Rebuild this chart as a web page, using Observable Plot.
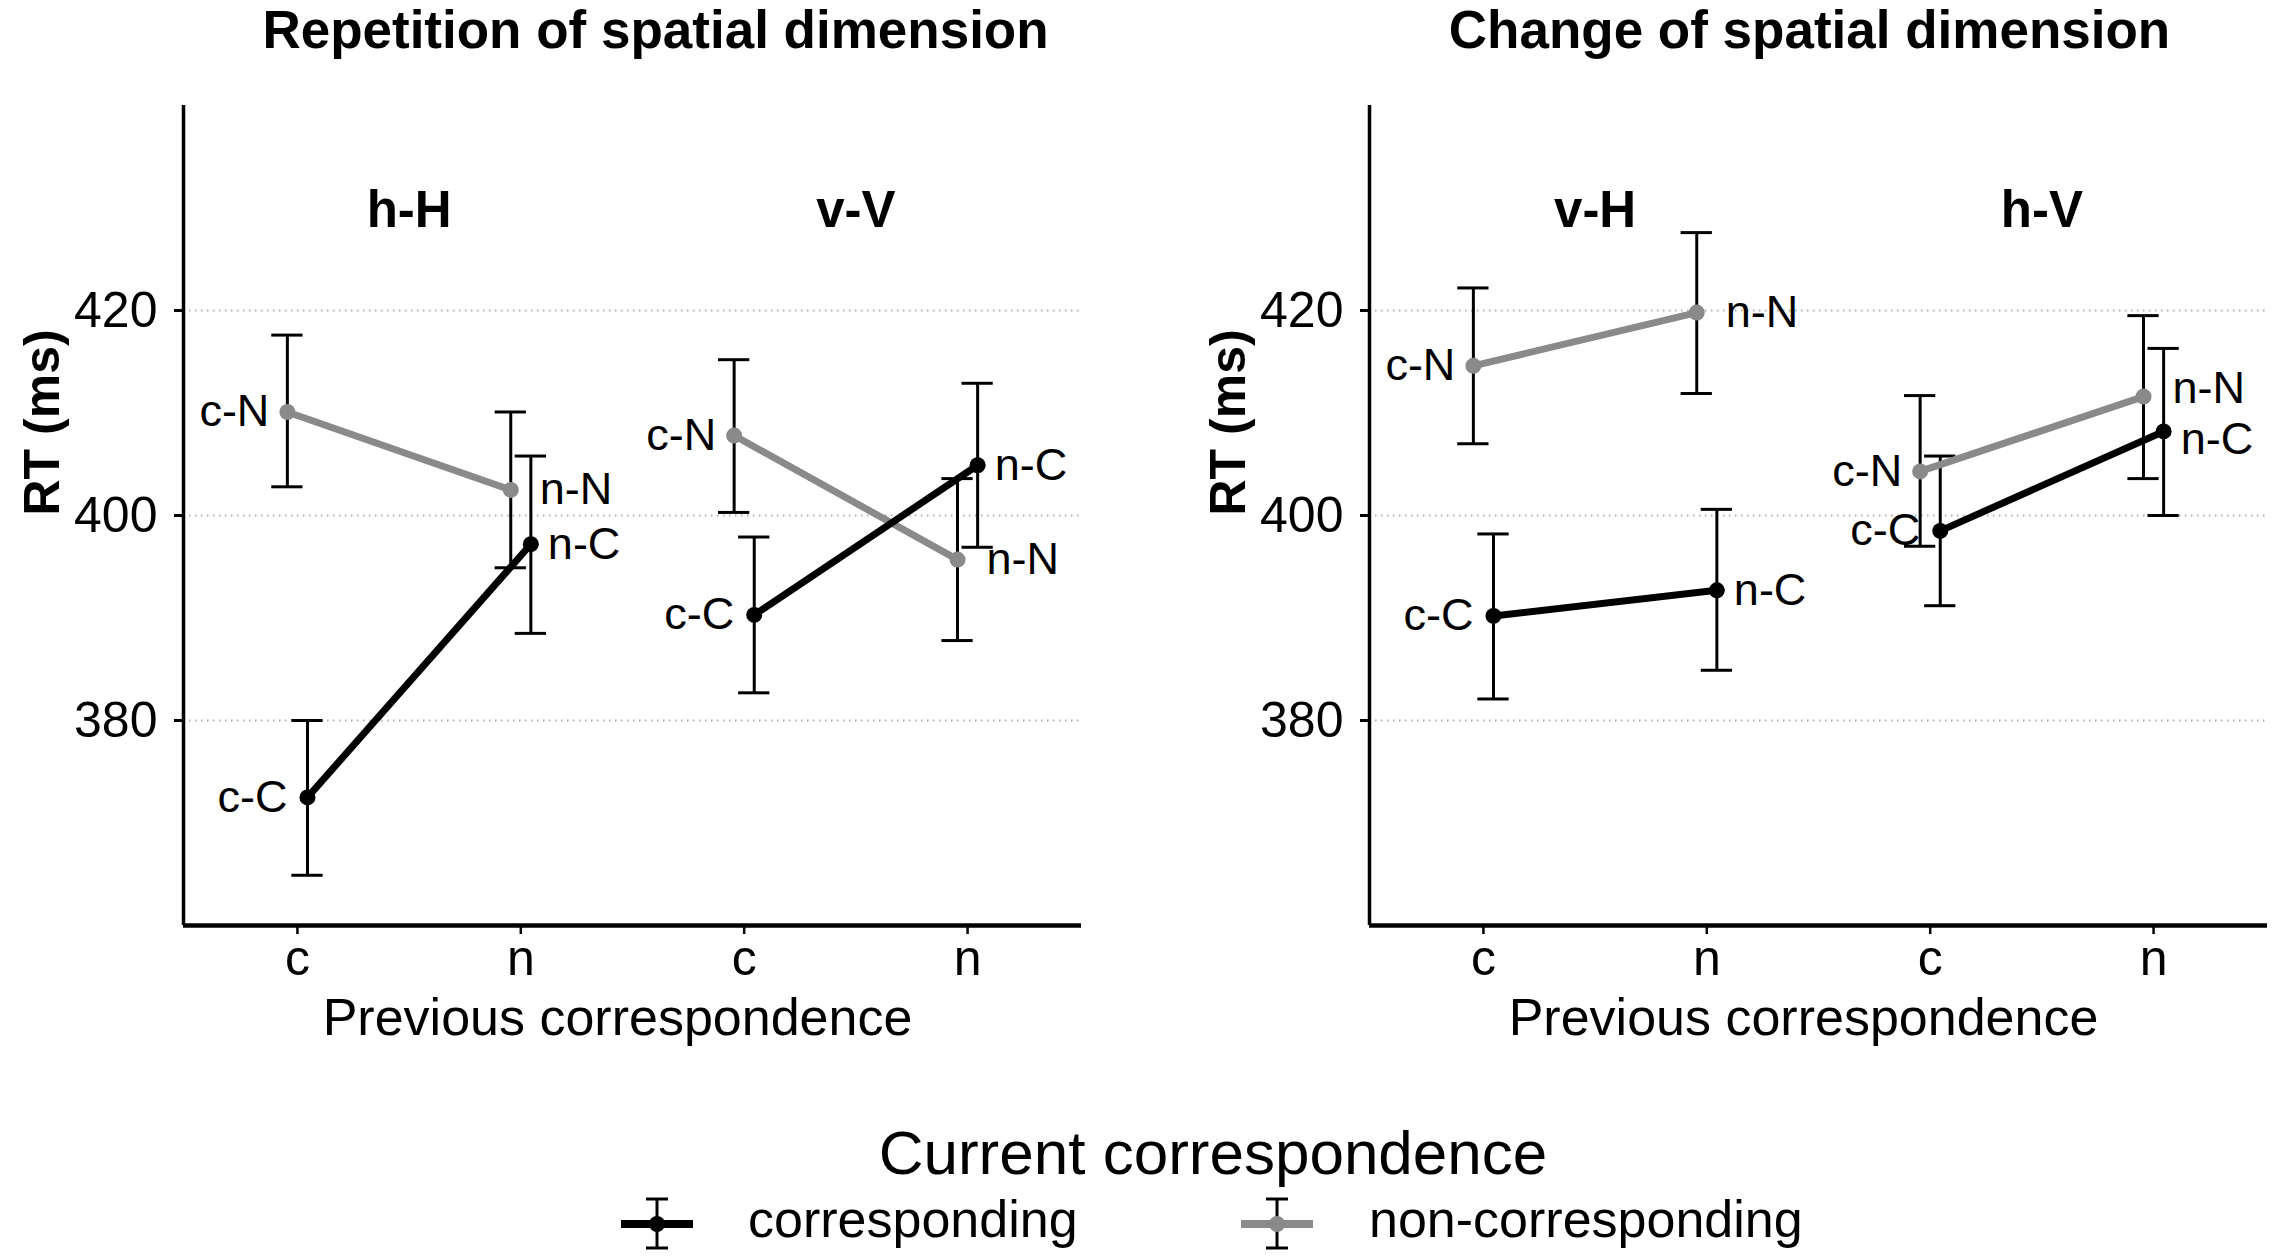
<!DOCTYPE html>
<html>
<head>
<meta charset="utf-8">
<script src="https://cdn.jsdelivr.net/npm/d3@7"></script>
<script src="https://cdn.jsdelivr.net/npm/@observablehq/plot@0.6"></script>
<style>
  html, body { margin: 0; padding: 0; background: #fff; }
  #root { position: relative; width: 2276px; height: 1258px; overflow: hidden; background: #fff;
          font-family: "Liberation Sans", Arial, Helvetica, sans-serif; }
  #root svg { position: absolute; overflow: visible; }
</style>
</head>
<body>
<div id="root"></div>
<script>
// ---------------- data ----------------
const panelTitles = ["Repetition of spatial dimension", "Change of spatial dimension"];
const facetNames = [["h-H", "v-V"], ["v-H", "h-V"]];
const prevLevels = ["c", "n"];
const seriesNames = ["corresponding", "non-corresponding"];
const seriesCodes = ["C", "N"];
const yTicks = [380, 400, 420];
const yDomain = [360, 440];
const xLabel = "Previous correspondence";
const yLabel = "RT (ms)";
const legendTitle = "Current correspondence";

// order within each array: facet1-c, facet1-n, facet2-c, facet2-n
const repCorrMean = [372.5, 397.2, 390.3, 404.9];
const repCorrLo   = [364.9, 388.5, 382.7, 396.9];
const repCorrHi   = [380.0, 405.8, 397.9, 412.9];
const repNonMean  = [410.1, 402.5, 407.8, 395.7];
const repNonLo    = [402.8, 394.9, 400.3, 387.8];
const repNonHi    = [417.6, 410.1, 415.2, 403.6];

const chgCorrMean = [390.2, 392.7, 398.5, 408.2];
const chgCorrLo   = [382.1, 384.9, 391.2, 400.0];
const chgCorrHi   = [398.2, 400.6, 405.8, 416.3];
const chgNonMean  = [414.6, 419.8, 404.3, 411.6];
const chgNonLo    = [407.0, 411.9, 397.0, 403.6];
const chgNonHi    = [422.2, 427.6, 411.7, 419.5];

const panelData = [
  {corr: {mean: repCorrMean, lo: repCorrLo, hi: repCorrHi}, non: {mean: repNonMean, lo: repNonLo, hi: repNonHi}},
  {corr: {mean: chgCorrMean, lo: chgCorrLo, hi: chgCorrHi}, non: {mean: chgNonMean, lo: chgNonLo, hi: chgNonHi}}
];

// ---------------- style ----------------
const FONT = '"Liberation Sans", Arial, Helvetica, sans-serif';
const GRAY = "#8a8a8a";
const colors = ["#000000", GRAY];
const dodge = 0.045;     // data units (like position_dodge)
const capHalf = 0.07;    // error-bar cap half width, data units
const labelMinGap = 5;   // minimal vertical distance between labels at one position (y units)
const nPos = facetNames[0].length * prevLevels.length;
const xDomain = [-0.51, nPos - 1 + 0.51];
const panelLayout = [
  {left: 0,    marginLeft: 183, marginRight: 57, titleDx: 23},
  {left: 1138, marginLeft: 231, marginRight: 9,  titleDx: -9}
];
// label offsets (px) per series [corresponding, non-corresponding]
const labelDxC = [-20, -18];
const labelDxN = [17, 29];

function buildRows(p) {
  const rows = [];
  // non-corresponding first so the black series is drawn on top
  [[1, panelData[p].non], [0, panelData[p].corr]].forEach(([s, set]) => {
    set.mean.forEach((m, i) => {
      const pi = i % prevLevels.length;
      rows.push({
        pos: i,
        facet: facetNames[p][Math.floor(i / prevLevels.length)],
        prev: prevLevels[pi],
        s,
        series: seriesNames[s],
        mean: m, lo: set.lo[i], hi: set.hi[i],
        labelY: m,
        label: prevLevels[pi] + "-" + seriesCodes[s]
      });
    });
  });
  // simple repel: push apart labels sharing a position when too close
  d3.groups(rows, d => d.pos).forEach(([, g]) => {
    if (g.length === 2) {
      const [a, b] = g;
      const diff = a.mean - b.mean;
      if (Math.abs(diff) < labelMinGap) {
        const mid = (a.mean + b.mean) / 2, sign = diff >= 0 ? 1 : -1;
        a.labelY = mid + sign * labelMinGap / 2;
        b.labelY = mid - sign * labelMinGap / 2;
      }
    }
  });
  return rows;
}

const root = document.getElementById("root");

panelTitles.forEach((title, p) => {
  const L = panelLayout[p];
  const rows = buildRows(p);
  const xd = d => d.pos + (d.s === 0 ? dodge : -dodge);
  const facetRows = facetNames[p].map((f, k) => ({
    facet: f,
    pos: k * prevLevels.length + (prevLevels.length - 1) / 2
  }));
  const xTickPos = d3.range(nPos);

  const labelMarks = [];
  [0, 1].forEach(s => {
    labelMarks.push(Plot.text(rows.filter(d => d.prev === prevLevels[0] && d.s === s), {
      x: xd, y: "labelY", text: "label", textAnchor: "end", dx: labelDxC[s], fontSize: 45, fill: "#000", lineAnchor: "middle"
    }));
    labelMarks.push(Plot.text(rows.filter(d => d.prev === prevLevels[1] && d.s === s), {
      x: xd, y: "labelY", text: "label", textAnchor: "start", dx: labelDxN[s], fontSize: 45, fill: "#000", lineAnchor: "middle"
    }));
  });

  const chart = Plot.plot({
    width: 1138,
    height: 1080,
    marginLeft: L.marginLeft,
    marginRight: L.marginRight,
    marginTop: 105,
    marginBottom: 155,
    style: {fontFamily: FONT, background: "transparent", color: "#000", overflow: "visible"},
    x: {type: "linear", domain: xDomain},
    y: {domain: yDomain},
    color: {domain: seriesNames, range: colors},
    marks: [
      Plot.gridY(yTicks, {stroke: "#b0b0b0", strokeOpacity: 1, strokeWidth: 2, strokeDasharray: "1.5,4.5"}),
      // error bars
      Plot.ruleX(rows, {x: xd, y1: "lo", y2: "hi", stroke: "#000", strokeWidth: 3}),
      Plot.ruleY(rows, {y: "hi", x1: d => xd(d) - capHalf, x2: d => xd(d) + capHalf, stroke: "#000", strokeWidth: 3}),
      Plot.ruleY(rows, {y: "lo", x1: d => xd(d) - capHalf, x2: d => xd(d) + capHalf, stroke: "#000", strokeWidth: 3}),
      // lines & points
      Plot.line(rows, {x: xd, y: "mean", z: d => d.series + "|" + d.facet, stroke: "series", strokeWidth: 7}),
      Plot.dot(rows, {x: xd, y: "mean", r: 8, fill: "series", stroke: null}),
      // point labels
      ...labelMarks,
      // facet headers
      Plot.text(facetRows, {
        x: "pos", text: "facet", frameAnchor: "top", dy: 121, lineAnchor: "bottom",
        fontSize: 51, fontWeight: "bold", fill: "#000"
      }),
      // axes
      Plot.axisY(yTicks, {tickSize: 9, tickPadding: 17, fontSize: 50, strokeWidth: 3, stroke: "#000", fill: "#000", label: null}),
      Plot.axisX(xTickPos, {
        tickFormat: i => prevLevels[i % prevLevels.length],
        tickSize: 9, tickPadding: 5, fontSize: 50, strokeWidth: 2.5, stroke: "#000", fill: "#000", label: null
      }),
      Plot.ruleX([xDomain[0]], {stroke: "#000", strokeWidth: 3.5}),
      Plot.ruleY([yDomain[0]], {stroke: "#000", strokeWidth: 4.5}),
      // titles
      Plot.text([title], {
        frameAnchor: "top", dx: L.titleDx, dy: -58, lineAnchor: "bottom",
        fontSize: 53, fontWeight: "bold", fill: "#000"
      }),
      Plot.text([xLabel], {
        frameAnchor: "bottom", dx: -15, dy: 109, lineAnchor: "bottom", fontSize: 52, fill: "#000"
      }),
      Plot.text([yLabel], {
        frameAnchor: "left", dx: -141, rotate: -90, lineAnchor: "middle",
        fontSize: 50, fontWeight: "bold", fill: "#000"
      })
    ]
  });
  chart.style.left = L.left + "px";
  chart.style.top = "0px";
  root.appendChild(chart);
});

// ---------------- legend ----------------
const legendTop = 1090;
const leg = d3.create("svg")
  .attr("width", 2276).attr("height", 1258 - legendTop)
  .style("left", "0px").style("top", legendTop + "px")
  .attr("font-family", FONT);

leg.append("text")
  .attr("x", 1213).attr("y", 1174 - legendTop)
  .attr("text-anchor", "middle").attr("font-size", 62).attr("fill", "#000")
  .text(legendTitle);

const keyX = [657, 1277];
const labelX = [748, 1369];
const keyY = 1224 - legendTop;
seriesNames.forEach((name, s) => {
  const g = leg.append("g");
  const cx = keyX[s];
  // error bar
  g.append("line").attr("x1", cx).attr("x2", cx).attr("y1", keyY - 25).attr("y2", keyY + 24)
    .attr("stroke", "#000").attr("stroke-width", 3);
  g.append("line").attr("x1", cx - 11).attr("x2", cx + 11).attr("y1", keyY - 25).attr("y2", keyY - 25)
    .attr("stroke", "#000").attr("stroke-width", 3);
  g.append("line").attr("x1", cx - 11).attr("x2", cx + 11).attr("y1", keyY + 24).attr("y2", keyY + 24)
    .attr("stroke", "#000").attr("stroke-width", 3);
  // line
  g.append("line").attr("x1", cx - 36).attr("x2", cx + 36).attr("y1", keyY).attr("y2", keyY)
    .attr("stroke", colors[s]).attr("stroke-width", 8);
  // point
  g.append("circle").attr("cx", cx).attr("cy", keyY).attr("r", 8).attr("fill", colors[s]);
  leg.append("text")
    .attr("x", labelX[s]).attr("y", 1237 - legendTop)
    .attr("font-size", 52).attr("fill", "#000")
    .text(name);
});
root.appendChild(leg.node());
</script>
</body>
</html>
